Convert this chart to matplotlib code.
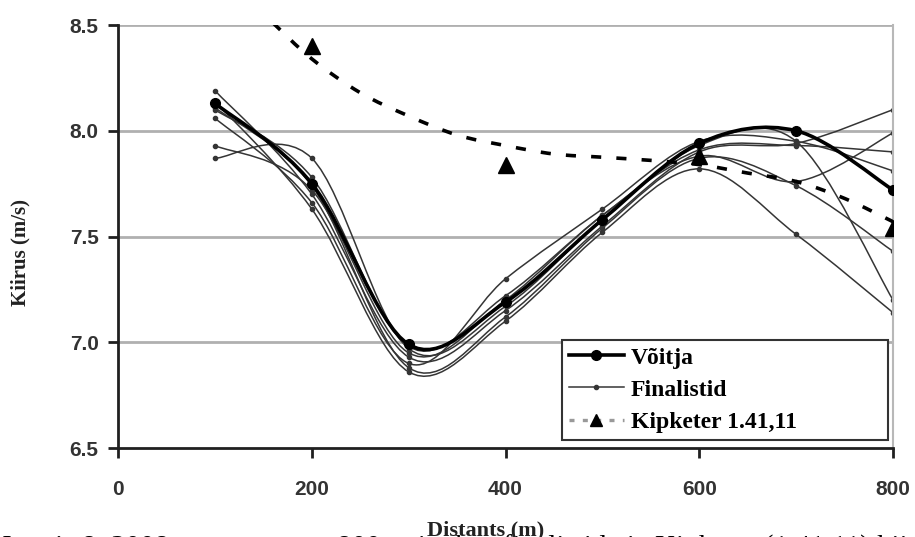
import matplotlib
matplotlib.use("Agg")
import matplotlib.pyplot as plt
from matplotlib.path import Path
from matplotlib.patches import PathPatch
from matplotlib.lines import Line2D
import numpy as np

# split distances (m)
dist = [100, 200, 300, 400, 500, 600, 700, 800]

# winner speed (m/s)
voitja = [8.13, 7.75, 6.99, 7.19, 7.58, 7.94, 8.00, 7.72]

# other finalists
fin1 = [7.87, 7.87, 6.97, 7.17, 7.58, 7.93, 7.95, 7.20]
fin2 = [8.19, 7.70, 6.93, 7.15, 7.55, 7.90, 7.94, 8.10]
fin3 = [8.06, 7.66, 6.90, 7.30, 7.63, 7.95, 7.95, 7.81]
fin4 = [7.93, 7.72, 6.95, 7.20, 7.60, 7.88, 7.76, 7.99]
fin5 = [8.11, 7.74, 6.88, 7.12, 7.54, 7.87, 7.74, 7.43]
fin6 = [8.14, 7.63, 6.86, 7.10, 7.52, 7.82, 7.51, 7.14]
fin7 = [8.10, 7.78, 6.98, 7.22, 7.60, 7.91, 7.93, 7.90]
finalistid = [fin1, fin2, fin3, fin4, fin5, fin6, fin7]

# Kipketer 1.41,11
kip_dist = [200, 400, 600, 800]
kip = [8.40, 7.84, 7.88, 7.54]

# Kipketer trend line
trend_dist = [160, 200, 250, 300, 350, 400, 450, 500, 550, 600, 650, 700, 750, 800]
trend = [8.51, 8.34, 8.18, 8.07, 7.98, 7.93, 7.89, 7.875, 7.86, 7.84, 7.80, 7.76, 7.68, 7.57]

yticks = [6.5, 7.0, 7.5, 8.0, 8.5]
xticks = [0, 200, 400, 600, 800]


def smooth_path(x, y):
    # excel-like smoothed line: catmull-rom as cubic bezier segments
    p = np.column_stack([x, y]).astype(float)
    n = len(p)
    verts = [p[0]]
    codes = [Path.MOVETO]
    for i in range(n - 1):
        p0 = p[i - 1] if i > 0 else p[i]
        p3 = p[i + 2] if i + 2 < n else p[i + 1]
        c1 = p[i] + (p[i + 1] - p0) / 6.0
        c2 = p[i + 1] - (p3 - p[i]) / 6.0
        verts += [c1, c2, p[i + 1]]
        codes += [Path.CURVE4] * 3
    return Path(verts, codes)


fig = plt.figure(figsize=(9.15, 5.37), dpi=100)
ax = fig.add_axes([0.129, 0.1657, 0.847, 0.7877])

ax.set_xlim(0, 800)
ax.set_ylim(6.5, 8.5)
ax.set_xticks(xticks)
ax.set_yticks(yticks)
ax.set_yticklabels(["%.1f" % v for v in yticks])

for v in yticks[1:]:
    ax.axhline(v, color="#b0b0b0", lw=2, zorder=0.5)

ax.spines["top"].set_visible(False)
ax.spines["right"].set_color("#b8b8b8")
ax.spines["right"].set_linewidth(1.5)
for s in ["left", "bottom"]:
    ax.spines[s].set_color("#202020")
    ax.spines[s].set_linewidth(2)

ax.tick_params(axis="both", direction="out", length=7, width=2, color="#202020",
               labelsize=15, labelcolor="#333333", pad=7)
ax.tick_params(axis="x", pad=16)
for lab in ax.get_xticklabels() + ax.get_yticklabels():
    lab.set_fontfamily("Liberation Sans")
    lab.set_fontweight("bold")

for f in finalistid:
    ax.add_patch(PathPatch(smooth_path(dist, f), fill=False, ec="#353535", lw=1.1, zorder=2))
    ax.plot(dist, f, linestyle="none", marker="o", ms=3, color="#353535", zorder=2)

ax.add_patch(PathPatch(smooth_path(dist, voitja), fill=False, ec="black", lw=2.6, zorder=3))
ax.plot(dist, voitja, linestyle="none", marker="o", ms=7, color="black", zorder=3)

ax.add_patch(PathPatch(smooth_path(trend_dist, trend), fill=False, ec="black", lw=2.6,
                       linestyle=(0, (2.8, 4.2)), capstyle="butt", zorder=4))
ax.plot(kip_dist, kip, linestyle="none", marker="^", ms=11, color="black", zorder=5)

handles = [
    Line2D([], [], color="black", lw=2.6, marker="o", ms=7),
    Line2D([], [], color="#353535", lw=1.1, marker="o", ms=3),
    Line2D([], [], color="#999999", lw=2.4, linestyle=(0, (1.5, 2.5)), marker="^", ms=9,
           mfc="black", mec="black"),
]
labels = ["Võitja", "Finalistid", "Kipketer 1.41,11"]
leg = ax.legend(handles, labels, loc="lower left", bbox_to_anchor=(0.573, 0.019, 0.421, 0.26),
                mode="expand", borderaxespad=0, frameon=True, fancybox=False, framealpha=1,
                handlelength=2.3, handletextpad=0.3, labelspacing=0.45,
                borderpad=0.3,
                prop={"family": "Liberation Serif", "weight": "bold", "size": 17})
leg.get_frame().set_edgecolor("#333333")
leg.get_frame().set_linewidth(1.5)

fig.text(0.022, 0.53, "Kiirus (m/s)", rotation=90, ha="center", va="center",
         family="Liberation Serif", weight="bold", fontsize=15, color="#222222")

fig.text(0.0, -0.034, "Joonis 8. 2008. aasta meeste 800 m jooksu finalistide ja Kipketer (1.41,11) kiirus",
         ha="left", va="baseline", family="Liberation Serif", fontsize=21, color="black")
fig.text(0.531, 0.002, "Distants (m)", ha="center", va="baseline",
         family="Liberation Serif", weight="bold", fontsize=16, color="#222222")

fig.savefig("out.png", dpi=100)
